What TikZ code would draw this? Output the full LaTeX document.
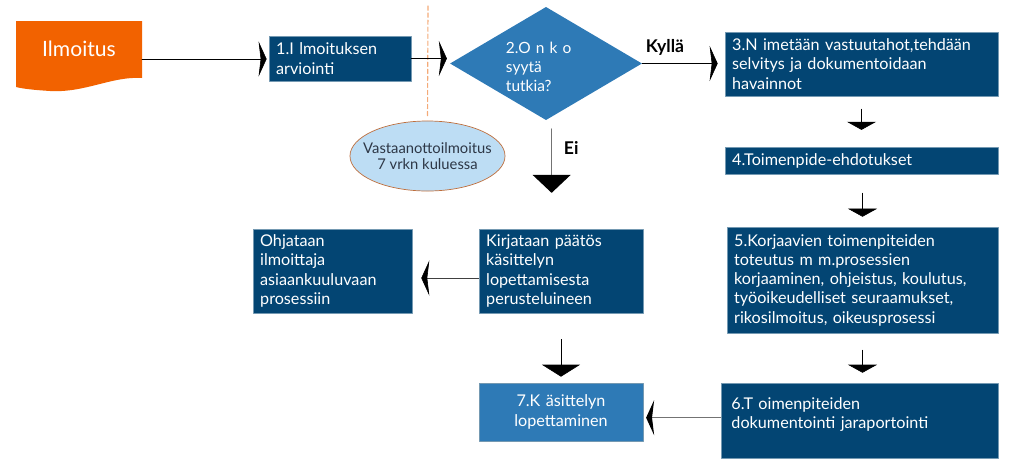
\documentclass[tikz,border=0pt]{standalone}
\usepackage{fontspec}
\setmainfont{Lato}
\usetikzlibrary{arrows.meta,positioning,calc,shapes.geometric}

\definecolor{darkbox}{RGB}{3,69,115}
\definecolor{midbox}{RGB}{46,122,182}
\definecolor{ilmorange}{RGB}{242,98,0}
\definecolor{ovalfill}{RGB}{189,221,244}
\definecolor{ovaledge}{RGB}{190,110,60}
\definecolor{dashorange}{RGB}{244,170,120}
\definecolor{ovaltext}{RGB}{45,55,70}

\begin{document}
\begin{tikzpicture}[x=0.025cm, y=-0.025cm, line cap=round, line join=round,
  boxtxt/.style={font=\fontsize{11.5}{13.7}\selectfont},
  box/.style={boxtxt, draw=darkbox!55!white, line width=0.4pt, fill=darkbox, text=white, align=left, inner xsep=0.18cm, inner ysep=0pt},
  hhead/.style={-{Stealth[length=5.7pt, width=25pt, inset=1.5pt, color=black]}},
  vhead/.style={-{Triangle[length=5.7pt, width=20.6pt]}},
  bighead/.style={-{Triangle[length=#1, width=27pt, color=black]}}]

\useasboundingbox (0,0) rectangle (1024,469);

% ilmoitus
\fill[ilmorange] (16,21) -- (142,21) -- (142,78) .. controls (112,76) and (85,93) .. (50,91) .. controls (35,90) and (24,89) .. (16,87) -- cycle;
\node[font=\fontsize{15}{17}\selectfont, text=white] (ilm) at (79,49) {Ilmoitus};
\coordinate (ilmE) at (142,59);

% boxes
\node[box, minimum width=3.55cm, text width=3.19cm, minimum height=1.125cm] (arv) at (340,58.5) {1.I lmoituksen\\arviointi};
\node[diamond, fill=midbox, aspect=1.7, minimum width=4.8cm, minimum height=2.83cm, inner sep=0pt, text=white, align=left, text width=2cm, text height=0.45cm, font=\fontsize{11}{13.5}\selectfont] (onko) at (546,63.5) {2.O n k o\\ syytä\\ tutkia?};
\node[ellipse, draw=ovaledge, line width=0.5pt, fill=ovalfill, minimum width=3.875cm, minimum height=1.75cm, inner xsep=-0.33cm, inner ysep=0pt, text=ovaltext, align=center, font=\fontsize{10.5}{11.8}\selectfont] (kuitt) at (427.5,156) {Vastaanottoilmoitus\\7 vrkn kuluessa};
\node[box, minimum width=6.825cm, text width=6.465cm, minimum height=1.6cm] (vast) at (861.5,64) {3.N imetään vastuutahot,tehdään\\selvitys ja dokumentoidaan\\havainnot};
\node[box, minimum width=6.825cm, text width=6.465cm, minimum height=0.675cm] (ehd) at (861.5,160.5) {4.Toimenpide-ehdotukset};
\node[box, minimum width=6.775cm, text width=6.415cm, minimum height=2.65cm] (korj) at (862.5,280) {5.Korjaavien toimenpiteiden\\toteutus m m.prosessien\\korjaaminen, ohjeistus, koulutus,\\työoikeudelliset seuraamukset,\\rikosilmoitus, oikeusprosessi};
\node[box, minimum width=6.925cm, text width=6.4cm, minimum height=1.875cm, text depth=0.85cm] (dok) at (859.5,420.5) {6.T oimenpiteiden\\dokumentointi jaraportointi};
\node[box, minimum width=4.1cm, text width=3.74cm, minimum height=2.1cm] (kirj) at (561,271) {Kirjataan päätös\\käsittelyn\\lopettamisesta\\perusteluineen};
\node[box, minimum width=3.975cm, text width=3.615cm, minimum height=2.1cm] (ohj) at (332.5,271) {Ohjataan\\ilmoittaja\\asiaankuuluvaan\\prosessiin};
\node[box, fill=midbox, align=center, minimum width=4.1cm, text width=3.74cm, minimum height=1.45cm] (lop) at (561,412) {7.K äsittelyn\\lopettaminen};

% dashed line to the oval
\draw[dashorange, line width=0.8pt, dash pattern=on 3pt off 2pt, shorten >=3pt] (428,6) -- (kuitt.north);

% connectors
\draw[hhead, shorten >=1.5pt] (ilmE) -- (arv.west |- ilmE);
\draw[hhead, shorten >=2pt] (arv.east) -- (arv.east -| onko.west);
\draw[hhead, shorten >=5pt] (onko.east) -- (onko.east -| vast.west);
\node[font=\bfseries\fontsize{12.5}{14}\selectfont, anchor=south west] (kyl) at (641,60) {Kyllä};
\draw[bighead=12.8pt, black!55, line width=0.8pt, shorten <=6pt, shorten >=25.5pt] ([xshift=4pt]onko.south) -- ([xshift=4pt]onko.south |- kirj.north);
\node[font=\bfseries\fontsize{12.5}{14}\selectfont, anchor=west] (ei) at (559,148) {Ei};
\draw[vhead, shorten <=9.2pt, shorten >=12pt] (vast.south) -- (vast.south |- ehd.north);
\draw[vhead, shorten <=13.5pt, shorten >=7.1pt] (ehd.south -| korj.south) -- (korj.north);
\draw[vhead, shorten <=12pt, shorten >=7.1pt] (korj.south) -- (korj.south |- dok.north);
\draw[bighead=8.5pt, shorten <=18.5pt, shorten >=4.3pt] (kirj.south) -- (lop.north);
\draw[hhead, black!75, shorten >=6.4pt] ([yshift=-5pt]kirj.west) -- ([yshift=-5pt]kirj.west -| ohj.east);
\draw[hhead, black!55, line width=0.8pt, shorten >=2pt] ([yshift=2pt]dok.west) -- ([yshift=2pt]dok.west -| lop.east);

\end{tikzpicture}
\end{document}
